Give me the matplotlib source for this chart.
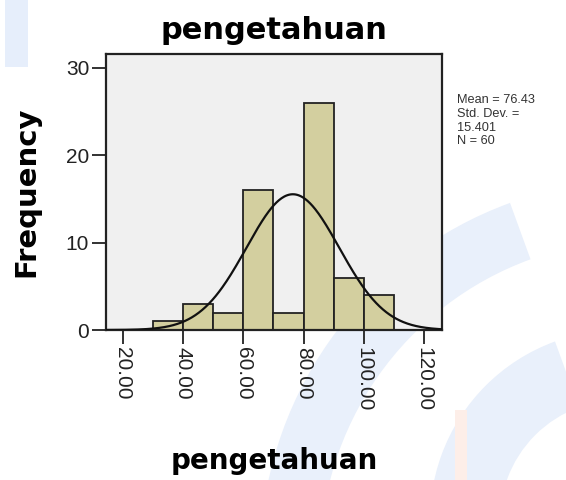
import numpy as np
import matplotlib.pyplot as plt
from matplotlib.patches import Rectangle, Wedge

# histogram data (read from SPSS output)
bin_edges = [30, 40, 50, 60, 70, 80, 90, 100, 110]
counts = [1, 3, 2, 16, 2, 26, 6, 4]
mean = 76.43
std_dev = 15.401
n = 60
x_ticks = [20, 40, 60, 80, 100, 120]
x_tick_labels = ["20.00", "40.00", "60.00", "80.00", "100.00", "120.00"]
y_ticks = [0, 10, 20, 30]

fig = plt.figure(figsize=(5.66, 4.8), dpi=100)

# faint watermark shapes behind the chart
wm = fig.add_axes([0, 0, 1, 1], zorder=-5)
wm.set_xlim(0, 566)
wm.set_ylim(480, 0)
wm.axis("off")
wm.add_patch(Rectangle((5, 0), 23, 67, color="#e6eefb", lw=0))
wm.add_patch(Wedge((640, 560), 380, 180, 250, width=60, color="#e9f0fb", lw=0))
wm.add_patch(Wedge((620, 520), 190, 150, 250, width=70, color="#e9f0fb", lw=0))
wm.add_patch(Rectangle((455, 410), 12, 70, color="#fdeee8", lw=0))

ax = fig.add_axes([0.187, 0.3125, 0.594, 0.575])
ax.set_facecolor("#f0f0f0")

widths = np.diff(bin_edges)
ax.bar(bin_edges[:-1], counts, width=widths, align="edge",
       color="#d3cf9f", edgecolor="#222222", linewidth=1.3, zorder=2)

xs = np.linspace(14, 126, 400)
ys = n * 10 / (std_dev * np.sqrt(2 * np.pi)) * np.exp(-0.5 * ((xs - mean) / std_dev) ** 2)
ax.plot(xs, ys, color="#111111", linewidth=1.6, zorder=3)

ax.set_xlim(14.3, 126)
ax.set_ylim(0, 31.6)
ax.set_xticks(x_ticks)
ax.set_xticklabels(x_tick_labels, rotation=-90, fontsize=15,
                   family="Liberation Sans", color="#222222")
ax.set_yticks(y_ticks)
ax.set_yticklabels([str(v) for v in y_ticks], fontsize=15,
                   family="Liberation Sans", color="#222222")
ax.tick_params(direction="out", length=10, width=1.3, color="#222222", pad=2)
for s in ax.spines.values():
    s.set_linewidth(1.6)
    s.set_color("#222222")

ax.set_title("pengetahuan", fontsize=22, fontweight="bold", pad=11)
ax.set_ylabel("Frequency", fontsize=21, fontweight="bold", labelpad=18)
ax.set_xlabel("pengetahuan", fontsize=20, fontweight="bold", labelpad=26)

fig.text(457 / 566, 1 - 94 / 480,
         "Mean = %.2f\nStd. Dev. =\n%.3f\nN = %d" % (mean, std_dev, n),
         fontsize=9.2, family="Liberation Sans", color="#333333",
         va="top", ha="left", linespacing=1.2)

plt.savefig("out.png", dpi=100)
